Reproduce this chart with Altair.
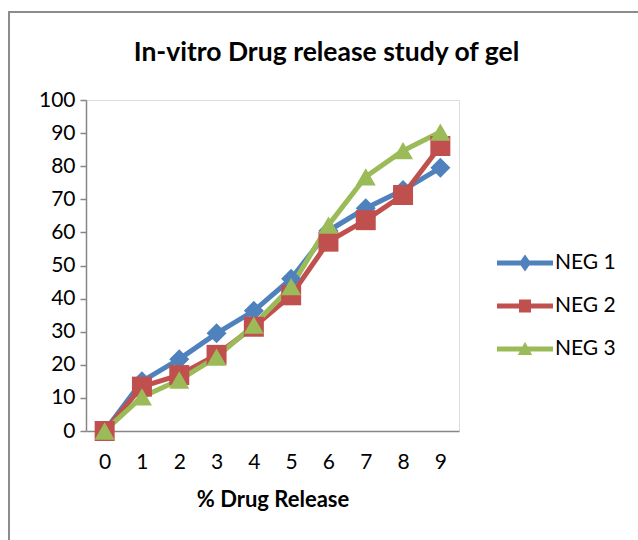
import altair as alt
import pandas as pd

# ---- data ----
steps = [0, 1, 2, 3, 4, 5, 6, 7, 8, 9]
neg1 = [0, 15.0, 21.7, 29.5, 36.3, 46.0, 60.5, 67.3, 72.8, 79.5]
neg2 = [0, 13.4, 16.9, 23.0, 31.5, 41.0, 57.2, 63.7, 71.3, 86.1]
neg3 = [0, 10.3, 15.4, 22.3, 32.0, 43.6, 62.2, 76.8, 84.7, 90.3]
series_names = ["NEG 1", "NEG 2", "NEG 3"]
series_values = [neg1, neg2, neg3]
colors = ["#4F81BD", "#C0504D", "#9BBB59"]
shapes = ["diamond", "square", "triangle-up"]
y_ticks = [0, 10, 20, 30, 40, 50, 60, 70, 80, 90, 100]

rows = []
for name, vals in zip(series_names, series_values):
    for s, v in zip(steps, vals):
        rows.append({"step": s, "value": v, "series": name})
df = pd.DataFrame(rows)

FONT = "Lato"

# legend symbols: a line segment with the series marker on it
bar = "M-1.4,-0.12H1.4V0.12H-1.4Z"
legend_shapes = [
    bar + "M0,-0.42L0.3,0L0,0.42L-0.3,0Z",
    bar + "M-0.3,-0.32H0.3V0.32H-0.3Z",
    bar + "M0,-0.36L0.36,0.3L-0.36,0.3Z",
]

legend = alt.Legend(
    title=None,
    orient="none",
    legendX=419,
    legendY=143,
    padding=0,
    symbolSize=1600,
    symbolOpacity=1,
    symbolStrokeWidth=0,
    rowPadding=13,
    labelOffset=10,
    labelFont=FONT,
    labelFontSize=21,
    labelColor="#000000",
)

x = alt.X(
    "step:Q",
    scale=alt.Scale(domain=[-0.5, 9.5], nice=False, zero=False),
    axis=alt.Axis(
        values=steps,
        format="d",
        title="% Drug Release",
        grid=False,
        ticks=False,
        tickSize=0,
        labelPadding=20,
        labelFlush=False,
        labelFont=FONT,
        labelFontSize=21,
        labelColor="#000000",
        titleFont=FONT,
        titleFontSize=22,
        titleFontWeight="bold",
        titleColor="#000000",
        titlePadding=17,
        domainColor="#868686",
        domainWidth=1.5,
    ),
)

y = alt.Y(
    "value:Q",
    scale=alt.Scale(domain=[0, 100], nice=False),
    axis=alt.Axis(
        values=y_ticks,
        title=None,
        grid=False,
        tickSize=6,
        tickColor="#868686",
        tickWidth=1.5,
        labelPadding=5,
        labelFont=FONT,
        labelFontSize=21,
        labelColor="#000000",
        domainColor="#868686",
        domainWidth=1.5,
    ),
)

frame = alt.Chart(alt.Data(values=[{}])).mark_rect(
    fill=None, stroke="#8C8C8C", strokeWidth=2
).encode(
    x=alt.value(-77), x2=alt.value(700), y=alt.value(-88), y2=alt.value(600)
)

base = alt.Chart(df)

line_layers = []
point_layers = []
for name, col, shp in zip(series_names, colors, shapes):
    sub = base.transform_filter(alt.datum.series == name)
    line_layers.append(
        sub.mark_line(
            color=col, strokeWidth=5, strokeCap="round", strokeJoin="round"
        ).encode(x=x, y=y, order="step:Q")
    )
    point_layers.append(
        sub.mark_point(
            filled=True, opacity=1, size=400, shape=shp, color=col
        ).encode(x=x, y=y)
    )

legend_layer = base.transform_filter("false").mark_point(
    filled=True, opacity=1, size=1600
).encode(
    x=x,
    y=y,
    color=alt.Color("series:N", scale=alt.Scale(domain=series_names, range=colors), legend=legend),
    shape=alt.Shape("series:N", scale=alt.Scale(domain=series_names, range=legend_shapes), legend=legend),
)

chart = (
    alt.layer(frame, *line_layers, *point_layers, legend_layer)
    .properties(
        width=373,
        height=331,
        autosize=alt.AutoSizeParams(type="none"),
        padding={"left": 86, "top": 100, "right": 179, "bottom": 109},
        title=alt.TitleParams(
            "In-vitro Drug release study of gel",
            font=FONT,
            fontSize=26.5,
            fontWeight="bold",
            color="#000000",
            anchor="middle",
            dx=54,
            dy=55,
            offset=0,
        ),
    )
    .configure_view(stroke=None)
    .configure(background="white")
)

chart.save("out.html", embed_options={"renderer": "svg", "actions": False})
